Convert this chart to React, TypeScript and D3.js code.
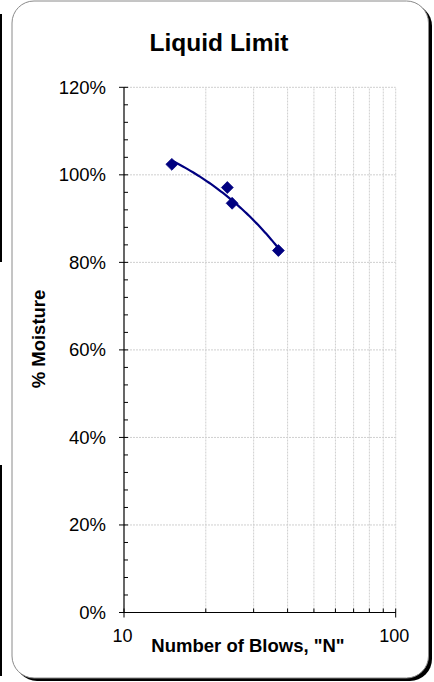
import React from "react";
import * as d3 from "d3";

const blows = [15, 24, 25, 37];
const moisture = [102.4, 97.1, 93.5, 82.7];
const yTicks = [0, 20, 40, 60, 80, 100, 120];
const xMajor = [10, 100];
const xMinor = [20, 30, 40, 50, 60, 70, 80, 90];
const title = "Liquid Limit";
const xTitle = 'Number of Blows, "N"';
const yTitle = "% Moisture";

function linFit(xs: number[], ys: number[]) {
  const mx = d3.mean(xs)!;
  const my = d3.mean(ys)!;
  let sxx = 0, sxy = 0;
  xs.forEach((x, i) => {
    sxx += (x - mx) * (x - mx);
    sxy += (x - mx) * (ys[i] - my);
  });
  const b = sxy / sxx;
  const a = my - b * mx;
  return (x: number) => a + b * x;
}

export default function App() {
  const W = 434, H = 682;
  const x = d3.scaleLog().domain([10, 100]).range([124, 395.7]);
  const y = d3.scaleLinear().domain([0, 120]).range([612.5, 87.3]);
  const fit = linFit(blows, moisture);
  const n0 = d3.min(blows)!, n1 = d3.max(blows)!;
  const samples = d3.range(0, 61).map((i) => n0 + ((n1 - n0) * i) / 60);
  const line = d3
    .line<number>()
    .x((d) => x(d))
    .y((d) => y(fit(d)))
    .curve(d3.curveLinear);
  const yMinor = d3.range(0, 121, 4).filter((v) => v % 20 !== 0);
  const font = "Liberation Sans, Arial, Helvetica, sans-serif";
  const grid = "#cfcfcf";
  const navy = "#000080";
  const [x0, x1] = x.range();
  const [y0, y1] = y.range();
  const sym = d3.symbol().type(d3.symbolDiamond2).size(90);
  return (
    <svg
      width={W}
      height={H}
      style={{ position: "fixed", left: 0, top: 0, background: "#fff" }}
      fontFamily={font}
    >
      <rect x={0} y={0} width={W} height={H} fill="#fff" />
      {/* stray left edge lines */}
      <rect x={0} y={14} width={2} height={248} fill="#000" />
      <rect x={0} y={465} width={2} height={211} fill="#000" />
      {/* frame shadow */}
      <rect x={15} y={4} width={417} height={677} rx={22} fill="#000" />
      <rect x={12} y={1} width={416.5} height={677} rx={22} fill="#fff" stroke="#8a8a8a" strokeWidth={1} />
      {/* title */}
      <text x={219} y={51} textAnchor="middle" fontWeight="bold" fontSize={24.5}>
        {title}
      </text>
      {/* gridlines */}
      {yTicks.filter((v) => v > 0).map((v) => (
        <line key={"gy" + v} x1={x0} x2={x1} y1={y(v)} y2={y(v)} stroke={grid} strokeDasharray="2,1" />
      ))}
      {xMinor.concat([100]).map((v) => (
        <line key={"gx" + v} x1={x(v)} x2={x(v)} y1={y0} y2={y1} stroke={grid} strokeDasharray="2,1" />
      ))}
      {/* axes */}
      <line x1={x0} x2={x0} y1={y1} y2={y0} stroke="#000" strokeWidth={1.2} />
      <line x1={x0} x2={x1} y1={y0} y2={y0} stroke="#000" strokeWidth={1.2} />
      {yTicks.map((v) => (
        <g key={"yt" + v}>
          <line x1={x0 - 5} x2={x0 + 4} y1={y(v)} y2={y(v)} stroke="#000" />
          <text x={106} y={y(v)} dy="0.35em" textAnchor="end" fontSize={18.5}>
            {v + "%"}
          </text>
        </g>
      ))}
      {yMinor.map((v) => (
        <line key={"ym" + v} x1={x0} x2={x0 + 4} y1={y(v)} y2={y(v)} stroke="#000" />
      ))}
      {xMajor.map((v) => (
        <g key={"xt" + v}>
          <line x1={x(v)} x2={x(v)} y1={y0 - 4} y2={y0 + 5} stroke="#000" />
          <text x={x(v) - 1.5} y={642} textAnchor="middle" fontSize={18}>
            {v}
          </text>
        </g>
      ))}
      {xMinor.map((v) => (
        <line key={"xm" + v} x1={x(v)} x2={x(v)} y1={y0 - 4} y2={y0} stroke="#000" />
      ))}
      {/* axis titles */}
      <text x={248} y={652} textAnchor="middle" fontWeight="bold" fontSize={18.5}>
        {xTitle}
      </text>
      <text
        transform={`translate(44.5,339) rotate(-90)`}
        textAnchor="middle"
        fontWeight="bold"
        fontSize={18.5}
      >
        {yTitle}
      </text>
      {/* trendline */}
      <path d={line(samples) || ""} fill="none" stroke={navy} strokeWidth={2.2} />
      {/* markers */}
      {blows.map((n, i) => (
        <path key={"p" + i} d={sym() || ""} transform={`translate(${x(n)},${y(moisture[i])})`} fill={navy} stroke={navy} strokeWidth={0.8} />
      ))}
    </svg>
  );
}
